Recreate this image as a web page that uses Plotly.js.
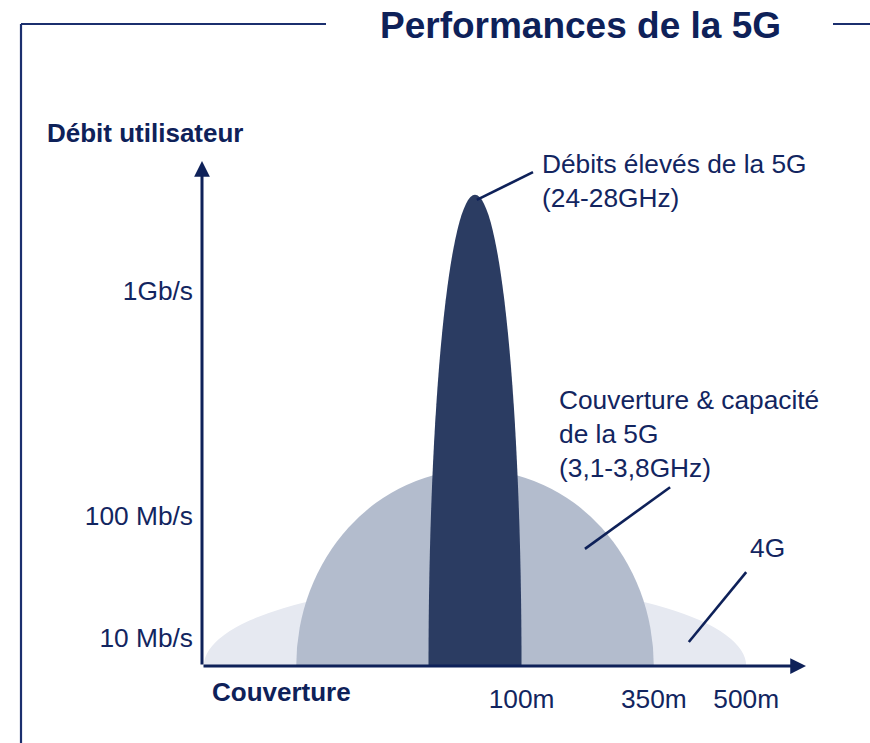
<!DOCTYPE html>
<html>
<head>
<meta charset="utf-8">
<script src="https://cdn.plot.ly/plotly-3.0.1.min.js"></script>
<style>
  html, body { margin: 0; padding: 0; background: #ffffff; }
  #chart { width: 870px; height: 743px; }
</style>
</head>
<body>
<div id="chart"></div>
<script>
// Schematic coverage / throughput zones (arbitrary 0-100 units on both axes)
const bandNames = ['4G', '5G 3,1-3,8GHz', '5G 24-28GHz'];
const bandCenter = 45.2;
const bandHalfWidth = [44.9, 29.6, 7.7];
const bandHeight = [16.2, 38.8, 93.3];
const bandColors = ['#e6e9f1', '#b3bccd', '#2b3c62'];
const reachLabels = ['500m', '350m', '100m'];

const rateLabels = ['10 Mb/s', '100 Mb/s', '1Gb/s'];
const ratePos = [5.6, 29.7, 74.3];

const navy = '#0e2159';
const textNavy = '#122560';
const font = 'Liberation Sans, Arial, sans-serif';

// Coverage reach ticks sit on the right edge of each zone
const reachPos = bandHalfWidth.map(w => +(bandCenter + w).toFixed(1));

// Half-ellipse zones: full ellipses clipped by the x axis at y = 0
const zoneShapes = bandNames.map((name, i) => ({
  type: 'circle', xref: 'x', yref: 'y', layer: 'below',
  x0: bandCenter - bandHalfWidth[i], x1: bandCenter + bandHalfWidth[i],
  y0: -bandHeight[i], y1: bandHeight[i],
  fillcolor: bandColors[i], line: { width: 0 }, name: name
}));

// Leader lines from each zone to its caption
const leaders = [
  { x0: 45.5, y0: 92.3, x1: 54.8, y1: 97.8 },
  { x0: 63.4, y0: 23.2, x1: 77.5, y1: 35.4 },
  { x0: 80.6, y0: 4.75, x1: 90.1, y1: 18.6 }
].map(s => Object.assign({ type: 'line', xref: 'x', yref: 'y', line: { color: navy, width: 2.6 } }, s));

// Frame around the figure, interrupted by the title
const frame = [
  { type: 'line', xref: 'paper', yref: 'paper', x0: 21 / 870, x1: 326 / 870, y0: 1 - 24 / 743, y1: 1 - 24 / 743 },
  { type: 'line', xref: 'paper', yref: 'paper', x0: 21 / 870, x1: 21 / 870, y0: 1 - 24 / 743, y1: 0 },
  { type: 'line', xref: 'paper', yref: 'paper', x0: 833 / 870, x1: 1, y0: 1 - 24 / 743, y1: 1 - 24 / 743 }
].map(s => Object.assign(s, { line: { color: '#1b2f6e', width: 2.2 } }));

const captionFont = { family: font, size: 26.3, color: textNavy };
const annotations = [
  // axis arrows
  { x: 0, y: 100, ax: 0, ay: 0, axref: 'x', ayref: 'y', xref: 'x', yref: 'y', text: '',
    showarrow: true, arrowhead: 2, arrowsize: 1.05, arrowwidth: 3, arrowcolor: navy },
  { x: 100, y: 0, ax: 0, ay: 0, axref: 'x', ayref: 'y', xref: 'x', yref: 'y', text: '',
    showarrow: true, arrowhead: 2, arrowsize: 1.05, arrowwidth: 3, arrowcolor: navy },
  // axis titles
  { xref: 'paper', yref: 'paper', x: 45 / 870, y: 1 - 133 / 743, xanchor: 'left', yanchor: 'middle',
    text: 'Débit utilisateur', showarrow: false, font: { family: font, size: 26, color: navy, weight: 'bold' } },
  { xref: 'paper', yref: 'paper', x: 210 / 870, y: 1 - 692 / 743, xanchor: 'left', yanchor: 'middle',
    text: 'Couverture', showarrow: false, font: { family: font, size: 26, color: navy, weight: 'bold' } },
  // zone captions
  { xref: 'paper', yref: 'paper', x: 540 / 870, y: 1 - 181 / 743, xanchor: 'left', yanchor: 'middle', align: 'left',
    text: 'Débits élevés de la 5G<br>(24-28GHz)', showarrow: false, font: captionFont },
  { xref: 'paper', yref: 'paper', x: 557 / 870, y: 1 - 434 / 743, xanchor: 'left', yanchor: 'middle', align: 'left',
    text: 'Couverture & capacité<br>de la 5G<br>(3,1-3,8GHz)', showarrow: false, font: captionFont },
  { xref: 'paper', yref: 'paper', x: 748 / 870, y: 1 - 548 / 743, xanchor: 'left', yanchor: 'middle', align: 'left',
    text: '4G', showarrow: false, font: captionFont }
];

const traces = [{
  type: 'scatter', mode: 'markers', x: reachPos, y: [0, 0, 0],
  marker: { opacity: 0, size: 1 }, hoverinfo: 'skip', showlegend: false
}];

const layout = {
  width: 870, height: 743,
  margin: { l: 0, r: 0, t: 0, b: 0 },
  paper_bgcolor: '#ffffff', plot_bgcolor: 'rgba(0,0,0,0)',
  showlegend: false,
  title: {
    text: 'Performances de la 5G',
    x: 580.5 / 870, xanchor: 'center', xref: 'paper',
    y: 1 - 25.5 / 743, yanchor: 'middle', yref: 'paper',
    font: { family: font, size: 37, color: navy, weight: 'bold' }
  },
  xaxis: {
    domain: [202 / 870, 806 / 870], range: [0, 100], automargin: false,
    showgrid: false, zeroline: false, showline: false, ticks: '',
    tickmode: 'array', tickvals: reachPos, ticktext: reachLabels,
    ticklabelstandoff: 15,
    tickfont: { family: font, size: 26.3, color: textNavy }
  },
  yaxis: {
    domain: [77 / 743, 582 / 743], range: [0, 100], automargin: false,
    showgrid: false, zeroline: false, showline: false, ticks: '',
    tickmode: 'array', tickvals: ratePos, ticktext: rateLabels,
    ticklabelstandoff: 8,
    tickfont: { family: font, size: 26.3, color: textNavy }
  },
  shapes: zoneShapes.concat(leaders, frame),
  annotations: annotations
};

Plotly.newPlot('chart', traces, layout, { staticPlot: true, displayModeBar: false });
</script>
</body>
</html>
